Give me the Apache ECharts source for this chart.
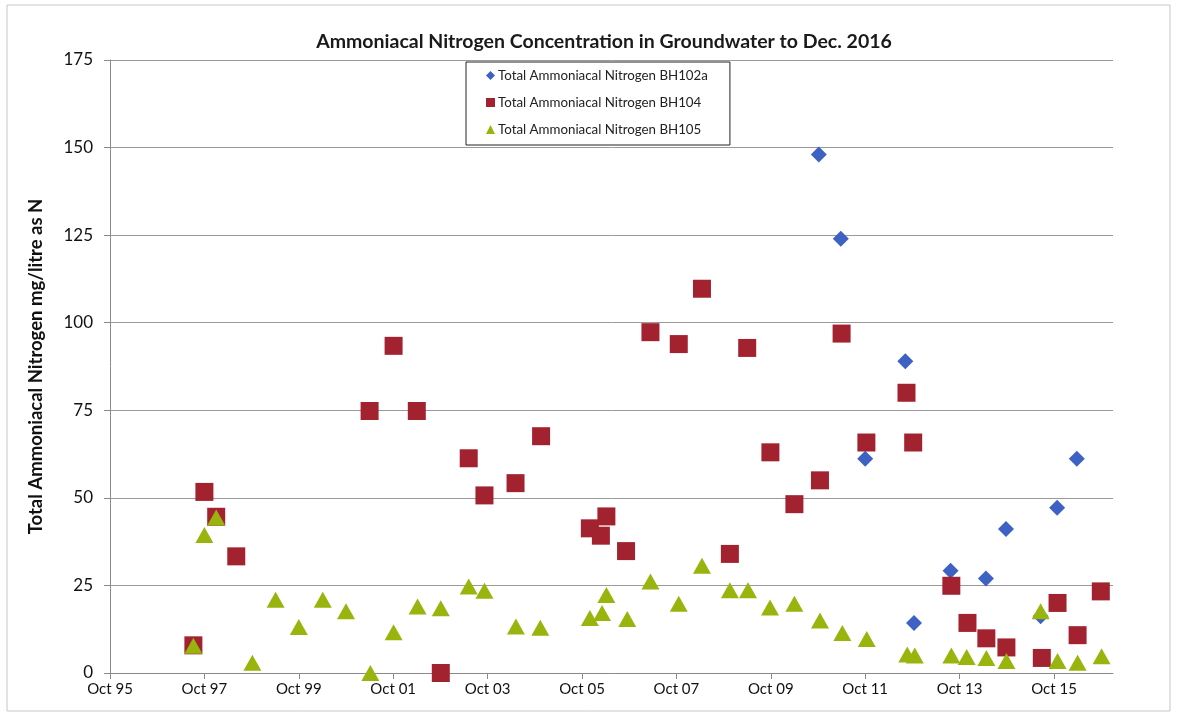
<!DOCTYPE html>
<html>
<head>
<meta charset="utf-8">
<title>Ammoniacal Nitrogen Concentration in Groundwater</title>
<script src="https://cdn.jsdelivr.net/npm/echarts@6/dist/echarts.min.js"></script>
<style>
  html, body { margin: 0; padding: 0; background: #fff; }
  #main { width: 1181px; height: 716px; }
</style>
</head>
<body>
<div id="main"></div>
<script>
// sample dates and readings (mg/litre as N)
const bh102aDates = ['2010-10-07', '2011-03-25', '2011-10-01', '2012-08-07', '2012-10-13', '2013-07-22',
  '2014-04-22', '2014-09-25', '2015-06-19', '2015-10-25', '2016-03-25'];
const bh102aValues = [148, 124, 61.2, 89, 14.3, 29.2, 27, 41.1, 16.2, 47.2, 61.2];

const bh104Dates = ['1997-07-07', '1997-10-01', '1998-01-01', '1998-06-04', '2001-04-01', '2001-10-04',
  '2002-04-01', '2002-10-04', '2003-05-07', '2003-09-07', '2004-05-04', '2004-11-19',
  '2005-12-01', '2006-02-25', '2006-04-07', '2006-09-07', '2007-03-13', '2007-10-19',
  '2008-04-16', '2008-11-19', '2009-04-01', '2009-09-28', '2010-04-01', '2010-10-16',
  '2011-04-01', '2011-10-10', '2012-08-16', '2012-10-07', '2013-07-28', '2013-12-01',
  '2014-04-25', '2014-09-28', '2015-06-28', '2015-10-28', '2016-04-01', '2016-09-28'];
const bh104Values = [7.9, 51.7, 44.6, 33.3, 74.8, 93.4, 74.8, 0, 61.3, 50.7, 54.2, 67.6,
  41.3, 39.2, 44.7, 34.8, 97.3, 93.9, 109.7, 34, 92.8, 63, 48.2, 55,
  96.9, 65.8, 80, 65.8, 24.9, 14.3, 9.9, 7.3, 4.3, 20, 10.8, 23.3];

const bh105Dates = ['1997-07-07', '1997-10-01', '1998-01-01', '1998-10-07', '1999-04-04', '1999-10-01',
  '2000-04-04', '2000-10-01', '2001-04-07', '2001-10-04', '2002-04-07', '2002-10-04',
  '2003-05-07', '2003-09-07', '2004-05-07', '2004-11-13', '2005-12-01', '2006-03-04',
  '2006-04-07', '2006-09-16', '2007-03-13', '2007-10-19', '2008-04-16', '2008-11-19',
  '2009-04-07', '2009-09-25', '2010-04-01', '2010-10-16', '2011-04-07', '2011-10-13',
  '2012-08-22', '2012-10-19', '2013-07-28', '2013-11-25', '2014-04-25', '2014-09-28',
  '2015-06-19', '2015-10-28', '2016-04-01', '2016-10-04'];
const bh105Values = [7.8, 39.4, 44.4, 2.9, 20.9, 13.1, 20.9, 17.6, 0, 11.6, 19, 18.5,
  24.7, 23.5, 13.3, 12.9, 15.7, 17.1, 22.3, 15.4, 26.1, 19.8, 30.6, 23.6,
  23.6, 18.7, 19.8, 15, 11.4, 9.7, 5.3, 5, 5, 4.6, 4.3, 3.4,
  17.6, 3.4, 2.9, 4.8];

const seriesNames = ['Total Ammoniacal Nitrogen BH102a', 'Total Ammoniacal Nitrogen BH104', 'Total Ammoniacal Nitrogen BH105'];

// x axis: months counted from Oct 1995, labels every two years
const xTicks = [0, 24, 48, 72, 96, 120, 144, 168, 192, 216, 240];
const yTicks = [0, 25, 50, 75, 100, 125, 150, 175];

const FONT = 'Lato, "Open Sans", sans-serif';

function toMonths(d) {
  const [y, m, day] = d.split('-').map(Number);
  return (y - 1995) * 12 + (m - 10) + (day - 1) / 30;
}

function monthLabel(v) {
  const yr = (1995 + Math.round(v / 12)) % 100;
  return 'Oct ' + String(yr).padStart(2, '0');
}

function pairs(dates, values) {
  return dates.map((d, i) => [toMonths(d), values[i]]);
}

const chart = echarts.init(document.getElementById('main'));

chart.setOption({
  backgroundColor: '#fff',
  animation: false,
  title: {
    text: 'Ammoniacal Nitrogen Concentration in Groundwater to Dec. 2016',
    left: 599,
    textAlign: 'center',
    top: 27,
    textStyle: { fontFamily: FONT, fontSize: 19.5, fontWeight: 'bold', color: '#1a1a1a' }
  },
  graphic: [{
    type: 'rect',
    shape: { x: 7, y: 5, width: 1163, height: 706 },
    style: { fill: 'none', stroke: '#c8c8c8', lineWidth: 1 },
    silent: true
  }],
  legend: {
    orient: 'vertical',
    left: 466,
    top: 62,
    padding: [7, 22, 9, 20],
    itemGap: 14,
    itemWidth: 9,
    itemHeight: 9,
    borderColor: '#222',
    borderWidth: 1,
    backgroundColor: '#fff',
    textStyle: { fontFamily: FONT, fontSize: 13.3, color: '#222', padding: [0, 0, 0, -2] },
    data: [
      { name: seriesNames[0], icon: 'diamond' },
      { name: seriesNames[1], icon: 'rect' },
      { name: seriesNames[2], icon: 'triangle' }
    ]
  },
  grid: { left: 110, right: 68, top: 60, bottom: 43, containLabel: false },
  xAxis: {
    type: 'value',
    min: 0,
    max: 255,
    interval: 24,
    splitLine: { show: false },
    axisLine: { show: true, lineStyle: { color: '#8a8a8a', width: 1 } },
    axisTick: { show: true, customValues: xTicks, length: 6, lineStyle: { color: '#8a8a8a' } },
    axisLabel: {
      customValues: xTicks,
      formatter: monthLabel,
      fontFamily: FONT, fontSize: 15, color: '#111', margin: 9
    }
  },
  yAxis: {
    type: 'value',
    min: 0,
    max: 175,
    interval: 25,
    name: 'Total Ammoniacal Nitrogen mg/litre as N',
    nameLocation: 'middle',
    nameRotate: 90,
    nameGap: 64,
    nameTextStyle: { fontFamily: FONT, fontSize: 18.5, fontWeight: 'bold', color: '#111' },
    axisLine: { show: true, lineStyle: { color: '#8a8a8a', width: 1 } },
    axisTick: { show: true, length: 6, lineStyle: { color: '#8a8a8a' } },
    axisLabel: { fontFamily: FONT, fontSize: 17, color: '#111', margin: 17 },
    splitLine: { show: true, lineStyle: { color: '#9a9a9a', width: 1 } }
  },
  series: [
    {
      name: seriesNames[0],
      type: 'scatter',
      symbol: 'diamond',
      symbolSize: [16, 16],
      itemStyle: { color: '#3d62c4', opacity: 1 },
      data: pairs(bh102aDates, bh102aValues)
    },
    {
      name: seriesNames[1],
      type: 'scatter',
      symbol: 'rect',
      symbolSize: 18,
      itemStyle: { color: '#a3222f', opacity: 1 },
      data: pairs(bh104Dates, bh104Values)
    },
    {
      name: seriesNames[2],
      type: 'scatter',
      symbol: 'triangle',
      symbolSize: [18, 16],
      itemStyle: { color: '#98b50e', opacity: 1 },
      data: pairs(bh105Dates, bh105Values)
    }
  ]
});
</script>
</body>
</html>
